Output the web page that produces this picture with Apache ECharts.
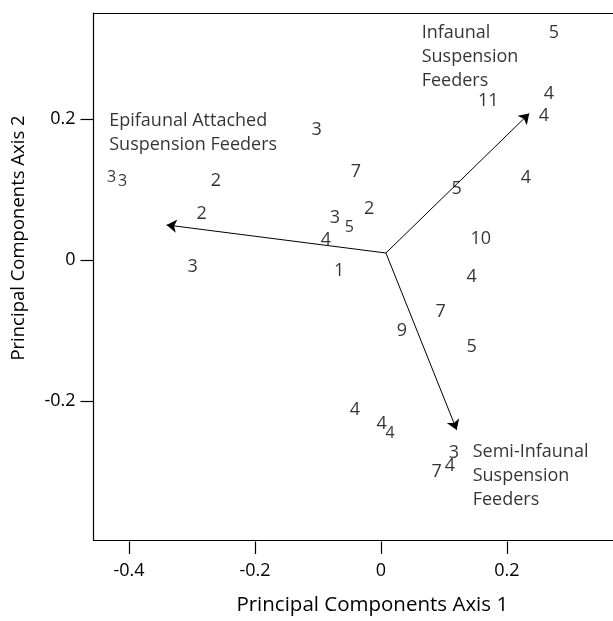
<!DOCTYPE html>
<html>
<head>
<meta charset="utf-8">
<script src="https://cdn.jsdelivr.net/npm/echarts@6/dist/echarts.min.js"></script>
<style>html,body{margin:0;padding:0;background:#fff}#c{width:613px;height:621px}</style>
</head>
<body>
<div id="c"></div>
<script>
// Site scores: [PC1, PC2]
const pc1 = [0.2746,0.2667,0.1703,0.2587,-0.1021,-0.4275,-0.4100,-0.2619,-0.0397,0.2302,0.1202,-0.2846,-0.0186,-0.0730,-0.0503,-0.0873,0.1583,-0.2989,-0.0662,0.1440,0.0948,0.0333,0.1440,-0.0413,0.0011,0.0143,0.1159,0.1095,0.0884];
const pc2 = [0.3221,0.2363,0.2259,0.2048,0.1851,0.1172,0.1120,0.1120,0.1252,0.1167,0.1017,0.0665,0.0722,0.0605,0.0464,0.0290,0.0304,-0.0098,-0.0146,-0.0235,-0.0731,-0.0994,-0.1233,-0.2124,-0.2321,-0.2453,-0.2734,-0.2921,-0.3006];
const siteLabels = ['5','4','11','4','3','3','3','2','7','4','5','2','2','3','5','4','10','3','1','4','7','9','5','4','4','4','3','4','7'];

// Loading vectors (origin -> tip)
const vectorOrigin = [0.0079, 0.0103];
const vectorTips = [[-0.3402, 0.0501], [0.2354, 0.2082], [0.1202, -0.2405]];
const groupNames = ['Epifaunal Attached\nSuspension Feeders', 'Infaunal\nSuspension\nFeeders', 'Semi-Infaunal\nSuspension\nFeeders'];
const groupAnchors = [[-0.4313, 0.1807], [0.0646, 0.2883], [0.1456, -0.3052]];

const xTicks = [-0.4, -0.2, 0, 0.2];
const yTicks = [-0.2, 0, 0.2];

// style only: labels printed slightly smaller in the original
const smallerLabelIdx = [5, 6, 14, 25];

const FONT = 'Open Sans';
const chart = echarts.init(document.getElementById('c'));

const siteData = pc1.map((x, i) => ({
  value: [x, pc2[i], siteLabels[i]],
  label: smallerLabelIdx.includes(i) ? { fontSize: 16, fontFamily: FONT, color: '#000' } : undefined
}));
const vecData = vectorTips.map(t => ({ coords: [vectorOrigin, t] }));
const groupData = groupAnchors.map((a, i) => [a[0], a[1], groupNames[i]]);

const XMIN = -0.4563, XMAX = 0.3683, YMIN = -0.3966, YMAX = 0.3506;
const lineSt = { color: '#000', width: 1.2 };

chart.setOption({
  animation: false,
  textStyle: { fontFamily: FONT, color: '#000' },
  grid: { left: 93.5, top: 13, right: 0, bottom: 76.7, show: false },
  xAxis: [{
    type: 'value', min: XMIN, max: XMAX, position: 'bottom',
    axisLine: { show: true, onZero: false, lineStyle: lineSt },
    axisTick: { show: false }, axisLabel: { show: false }, splitLine: { show: false }
  }, {
    type: 'value', min: XMIN, max: XMAX, position: 'top',
    axisLine: { show: true, onZero: false, lineStyle: lineSt },
    axisTick: { show: false }, axisLabel: { show: false }, splitLine: { show: false }
  }, {
    type: 'value', min: XMIN, max: XMAX, position: 'bottom', offset: 1.5,
    name: 'Principal Components Axis 1', nameLocation: 'middle', nameGap: 53.5,
    nameTextStyle: { fontFamily: FONT, fontSize: 20.5, color: '#000', padding: [0, 0, 0, 38] },
    axisLine: { show: false, onZero: false },
    splitLine: { show: false },
    axisTick: { show: true, inside: false, length: 12.5, customValues: xTicks, lineStyle: lineSt },
    axisLabel: { customValues: xTicks, margin: 20.5, fontSize: 18, color: '#000', fontFamily: FONT }
  }],
  yAxis: {
    type: 'value', min: YMIN, max: YMAX, position: 'left',
    name: 'Principal Components Axis 2', nameLocation: 'middle', nameGap: 65, nameRotate: 90,
    nameTextStyle: { fontFamily: FONT, fontSize: 18.5, color: '#000', padding: [0, 0, 0, 77] },
    axisLine: { show: true, onZero: false, lineStyle: lineSt },
    splitLine: { show: false },
    axisTick: { show: true, inside: false, length: 13, customValues: yTicks, lineStyle: lineSt },
    axisLabel: { customValues: yTicks, margin: 18, fontSize: 18, color: '#000', fontFamily: FONT }
  },
  series: [
    {
      type: 'lines', coordinateSystem: 'cartesian2d', xAxisIndex: 0, yAxisIndex: 0,
      data: vecData,
      symbol: ['none', 'arrow'], symbolSize: 10,
      lineStyle: { color: '#000', width: 1, opacity: 1, curveness: 0 },
      silent: true, z: 3
    },
    {
      type: 'scatter', xAxisIndex: 0, data: siteData, symbolSize: 0, silent: true, z: 4,
      label: { show: true, position: 'inside', formatter: p => p.value[2], fontSize: 18, color: '#000', fontFamily: FONT }
    },
    {
      type: 'scatter', xAxisIndex: 0, data: groupData, symbolSize: 0, silent: true, z: 4,
      label: { show: true, position: 'right', distance: 0, align: 'left', verticalAlign: 'middle', lineHeight: 24,
        formatter: p => p.value[2], fontSize: 18, color: '#000', fontFamily: FONT }
    }
  ]
});
</script>
</body>
</html>
